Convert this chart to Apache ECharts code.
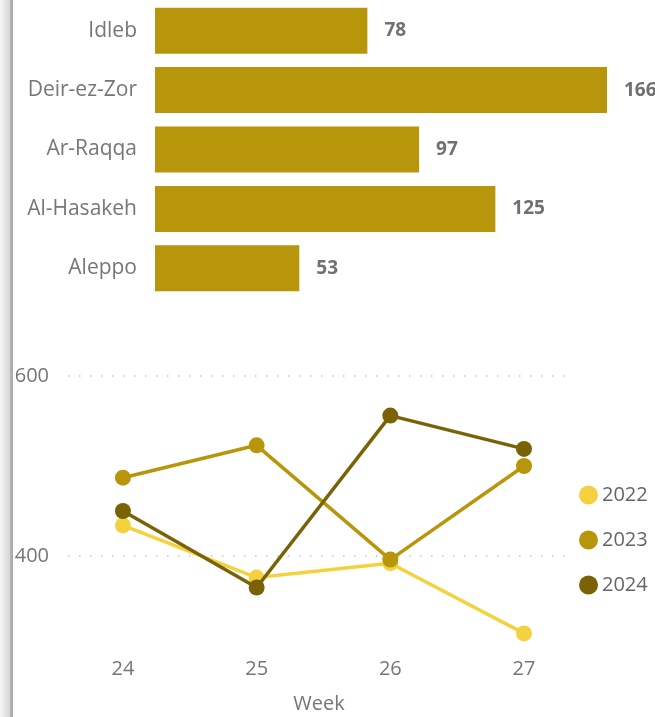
<!DOCTYPE html>
<html>
<head>
<meta charset="utf-8">
<script src="https://cdn.jsdelivr.net/npm/echarts@6/dist/echarts.min.js"></script>
<style>
html,body{margin:0;padding:0;background:#fff;}
#main{width:655px;height:717px;}
</style>
</head>
<body>
<div id="main"></div>
<script>
// ---- data ----
const regions = ['Idleb', 'Deir-ez-Zor', 'Ar-Raqqa', 'Al-Hasakeh', 'Aleppo'];
const regionValues = [78, 166, 97, 125, 53];

const weeks = [24, 25, 26, 27];
const years = ['2022', '2023', '2024'];
const values2022 = [434, 376, 392, 314];
const values2023 = [487, 523, 396, 500];
const values2024 = [450, 365, 556, 519];
const yTickValues = [400, 600];

// ---- style ----
const barColor = '#B8960B';
const lineColors = ['#F4D23F', '#B8960B', '#7A6206'];
const textColor = '#767676';
const font = '"Open Sans", "Noto Sans", sans-serif';

const chart = echarts.init(document.getElementById('main'), null, {renderer: 'canvas'});

const seriesValues = [values2022, values2023, values2024];

const option = {
  animation: false,
  backgroundColor: '#ffffff',
  textStyle: {fontFamily: font},
  graphic: [{
    type: 'rect',
    left: 0, top: 0,
    shape: {x: 0, y: 0, width: 13, height: 717},
    style: {
      fill: new echarts.graphic.LinearGradient(0, 0, 1, 0, [
        {offset: 0, color: '#f7f7f7'},
        {offset: 0.75, color: '#d6d6d6'},
        {offset: 0.8, color: '#b4b4b4'},
        {offset: 1, color: '#a8a8a8'}
      ])
    },
    z: 100
  }],
  grid: [
    {left: 155, width: 452, top: 1, height: 297, containLabel: false},
    {left: 68, right: 85, top: 340, height: 306, containLabel: false}
  ],
  xAxis: [
    {
      gridIndex: 0, type: 'value', min: 0, max: 'dataMax',
      show: false, splitLine: {show: false}
    },
    {
      gridIndex: 1, type: 'value', min: 23.589, max: 27.344,
      name: 'Week', nameLocation: 'middle', nameGap: 48,
      nameTextStyle: {color: textColor, fontSize: 20, fontFamily: font},
      axisLine: {show: false}, axisTick: {show: false, customValues: weeks},
      splitLine: {show: false},
      axisLabel: {customValues: weeks, color: textColor, fontSize: 20, margin: 13, fontFamily: font}
    }
  ],
  yAxis: [
    {
      gridIndex: 0, type: 'category', data: regions, inverse: true,
      axisLine: {show: false}, axisTick: {show: false},
      axisLabel: {color: textColor, fontSize: 21, margin: 18, fontFamily: font}
    },
    {
      gridIndex: 1, type: 'value', min: 300, max: 640,
      axisLine: {show: false},
      axisTick: {show: false, customValues: yTickValues},
      axisLabel: {customValues: yTickValues, color: textColor, fontSize: 20, margin: 19, fontFamily: font},
      splitLine: {show: true, lineStyle: {color: '#c4c4c4', width: 1.5, type: [1.5, 9.5]}}
    }
  ],
  legend: {
    orient: 'vertical',
    left: 574, top: 480,
    itemWidth: 19, itemHeight: 19, itemGap: 25,
    icon: 'circle',
    data: years,
    textStyle: {color: '#666', fontSize: 20, padding: [0, 0, 0, -1], fontFamily: font}
  },
  series: [
    {
      type: 'bar', xAxisIndex: 0, yAxisIndex: 0,
      data: regionValues,
      barCategoryGap: '22.6%',
      itemStyle: {color: barColor},
      label: {show: true, position: 'right', distance: 17, color: '#707070', fontSize: 19, fontWeight: 'bold', fontFamily: font}
    }
  ].concat(years.map((y, i) => ({
    type: 'line', name: y, xAxisIndex: 1, yAxisIndex: 1,
    data: weeks.map((w, j) => [w, seriesValues[i][j]]),
    symbol: 'circle', symbolSize: 16,
    lineStyle: {width: 3.5, color: lineColors[i]},
    itemStyle: {color: lineColors[i]},
    z: 2 + i
  })))
};
chart.setOption(option);
</script>
</body>
</html>
